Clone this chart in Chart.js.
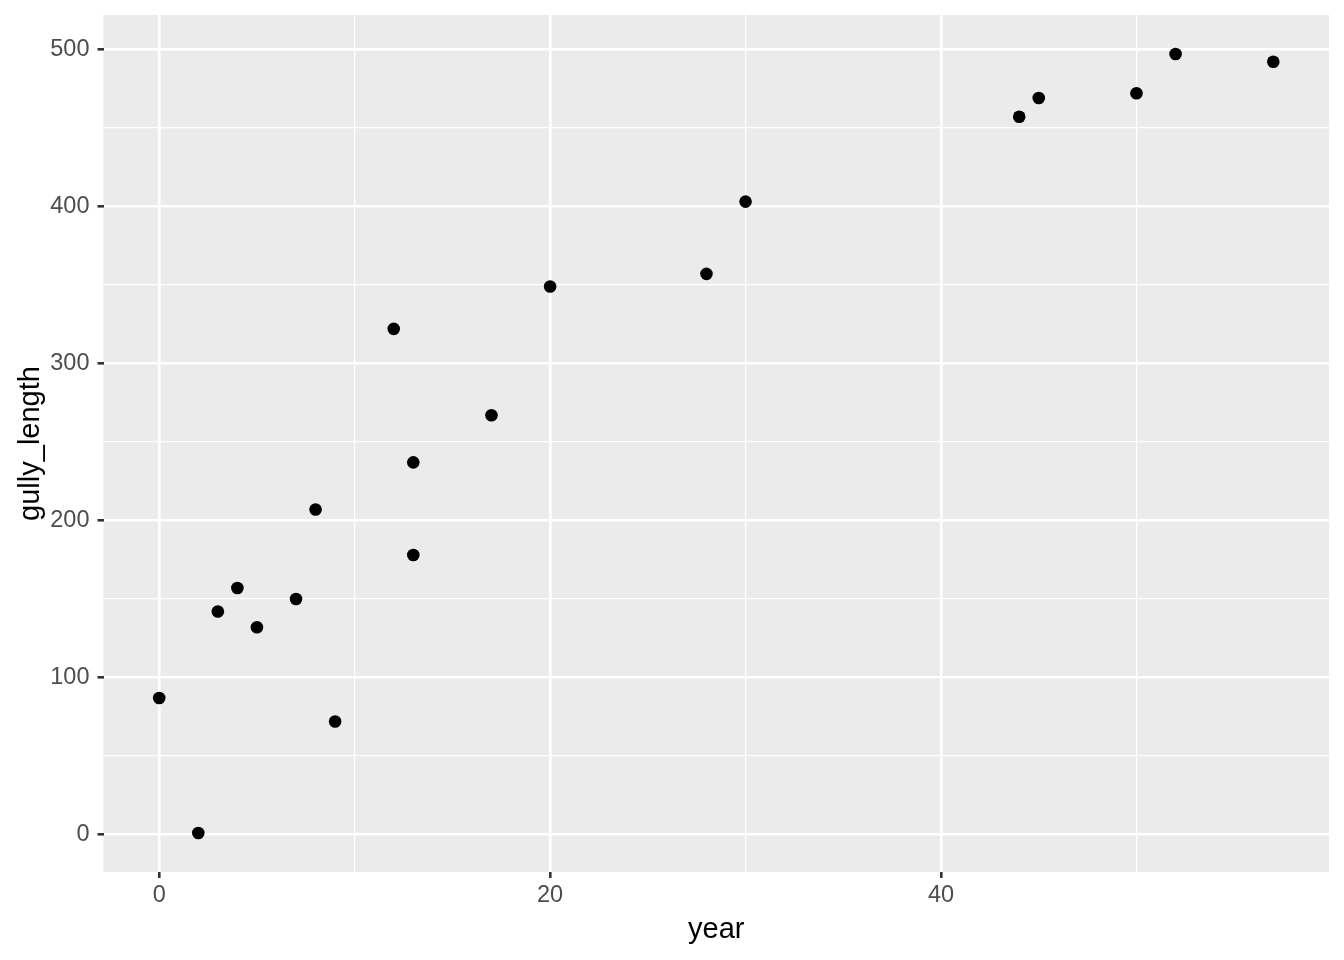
<!DOCTYPE html>
<html>
<head>
<meta charset="utf-8">
<script src="https://cdn.jsdelivr.net/npm/chart.js@4"></script>
<style>
  html, body { margin: 0; padding: 0; background: #fff; }
  #wrap { width: 1344px; height: 960px; }
</style>
</head>
<body>
<div id="wrap"><canvas id="gullyChart" width="1344" height="960"></canvas></div>
<script>
// data
const years = [0, 2, 3, 4, 5, 7, 8, 9, 12, 13, 13, 17, 20, 28, 30, 44, 45, 50, 52, 57];
const gullyLength = [87, 1, 142, 157, 132, 150, 207, 72, 322, 237, 178, 267, 349, 357, 403, 457, 469, 472, 497, 492];

const xTicks = [0, 10, 20, 30, 40, 50];
const yTicks = [0, 50, 100, 150, 200, 250, 300, 350, 400, 450, 500];

const FONT = "'Liberation Sans', Arial, sans-serif";

// grey panel like ggplot
const panelBg = {
    id: 'panelBg',
    beforeDraw(chart) {
        const { ctx, chartArea: a } = chart;
        ctx.save();
        ctx.fillStyle = '#EBEBEB';
        ctx.fillRect(a.left, a.top, a.right - a.left, a.bottom - a.top);
        ctx.restore();
    }
};

const points = years.map((x, i) => ({ x: x, y: gullyLength[i] }));

new Chart(document.getElementById('gullyChart'), {
    type: 'scatter',
    data: {
        datasets: [{
            data: points,
            backgroundColor: '#000',
            borderColor: '#000',
            pointRadius: 6.3,
            pointHoverRadius: 6.3,
            borderWidth: 0
        }]
    },
    options: {
        responsive: false,
        animation: false,
        layout: { padding: { left: 0, right: 15, top: 15, bottom: 0 } },
        plugins: { legend: { display: false }, tooltip: { enabled: false } },
        scales: {
            x: {
                type: 'linear',
                min: -2.85,
                max: 59.85,
                afterBuildTicks: (s) => { s.ticks = xTicks.map(v => ({ value: v })); },
                afterFit: (s) => {
                    s.height = 88;
                    s.paddingLeft = 0; s.paddingRight = 0;
                },
                border: { display: false },
                grid: {
                    color: '#fff',
                    lineWidth: (c) => (c.tick && c.tick.value % 20 === 0 ? 2.6 : 1.3),
                    tickColor: (c) => (c.tick && c.tick.value % 20 === 0 ? '#333333' : 'rgba(0,0,0,0)'),
                    tickWidth: 2.6,
                    tickLength: 6
                },
                ticks: {
                    color: '#4D4D4D',
                    font: { family: FONT, size: 23.5 },
                    padding: 3,
                    maxRotation: 0,
                    autoSkip: false,
                    callback: (v) => (v % 20 === 0 ? String(v) : '')
                },
                title: {
                    display: true,
                    text: 'year',
                    color: '#000',
                    font: { family: FONT, size: 29 },
                    padding: { top: 0, bottom: 13 }
                }
            },
            y: {
                type: 'linear',
                min: -23.8,
                max: 521.8,
                afterBuildTicks: (s) => { s.ticks = yTicks.map(v => ({ value: v })); },
                afterFit: (s) => {
                    s.width = 103.5;
                    s.paddingTop = 0; s.paddingBottom = 0;
                },
                border: { display: false },
                grid: {
                    color: '#fff',
                    lineWidth: (c) => (c.tick && c.tick.value % 100 === 0 ? 2.6 : 1.3),
                    tickColor: (c) => (c.tick && c.tick.value % 100 === 0 ? '#333333' : 'rgba(0,0,0,0)'),
                    tickWidth: 2.6,
                    tickLength: 6
                },
                ticks: {
                    color: '#4D4D4D',
                    font: { family: FONT, size: 23.5 },
                    padding: 8,
                    autoSkip: false,
                    callback: (v) => (v % 100 === 0 ? String(v) : '')
                },
                title: {
                    display: true,
                    text: 'gully_length',
                    color: '#000',
                    font: { family: FONT, size: 29 },
                    padding: { top: 14, bottom: 0 }
                }
            }
        }
    },
    plugins: [panelBg]
});
</script>
</body>
</html>
